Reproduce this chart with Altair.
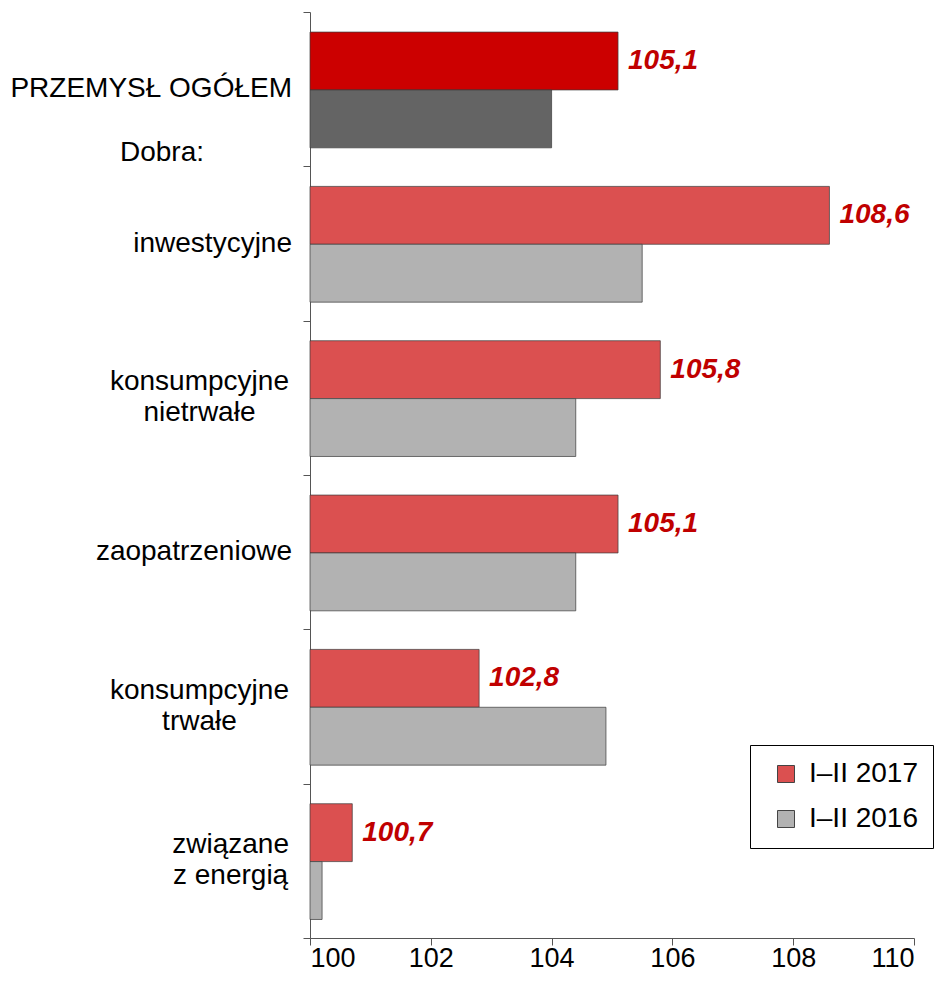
import altair as alt
import pandas as pd

categories = ["PRZEMYSŁ OGÓŁEM", "inwestycyjne", "konsumpcyjne\nnietrwałe",
              "zaopatrzeniowe", "konsumpcyjne\ntrwałe", "związane\nz energią"]
v2017 = [105.1, 108.6, 105.8, 105.1, 102.8, 100.7]
v2016 = [104.0, 105.5, 104.4, 104.4, 104.9, 100.2]
series = ["I–II 2017", "I–II 2016"]
total_keys = ["ogółem 2017", "ogółem 2016"]
sub_header = ["Dobra:"]
x_ticks = [100, 102, 104, 106, 108, 110]

FONT = "Liberation Sans"
FS = 28
LABEL_RIGHT = -18      # px from plot's left edge


def text_width(s, fs=FS):
    """Rough width estimate of a line in Liberation Sans."""
    w = 0.0
    for ch in s:
        if ch in "ijlłtrf ,.:":
            w += 0.25
        elif ch in "mw":
            w += 0.8
        else:
            w += 0.556
    return w * fs


# bar table: group index -> band position within the group
rows = []
for g, cat in enumerate(categories):
    for s, vals in enumerate([v2017, v2016]):
        key = total_keys[s] if g == 0 else series[s]
        top = g + (0.13 if s == 0 else 0.505)
        bot = g + (0.505 if s == 0 else 0.88)
        rows.append({"cat": cat, "series": series[s], "key": key,
                     "value": vals[g], "y0": top, "y1": bot})
bars_df = pd.DataFrame(rows)

lab_df = pd.DataFrame({"cat": categories,
                       "yc": [g + 0.5 for g in range(len(categories))]})
lab_df["multi"] = lab_df["cat"].str.contains("\n")
lab_df["xpix"] = [LABEL_RIGHT - max(text_width(s) for s in c.split("\n")) / 2
                  for c in lab_df["cat"]]
single_df = lab_df[~lab_df["multi"]]
multi_df = lab_df[lab_df["multi"]]

val_df = pd.DataFrame({"value": v2017,
                       "yc": [g + 0.3175 for g in range(len(categories))],
                       "txt": [f"{v:.1f}".replace(".", ",") for v in v2017]})
dobra_df = pd.DataFrame({"txt": sub_header, "yc": [0.914]})

yscale = alt.Scale(domain=[0, 6], reverse=True, nice=False, zero=False)
xscale = alt.Scale(domain=[100, 110], nice=False, zero=False)

xaxis = alt.Axis(values=x_ticks, format="d", title=None, grid=False,
                 labelFontSize=27, labelFont=FONT, labelColor="#000",
                 tickSize=7, tickColor="#555", domainColor="#555",
                 labelPadding=0)
yaxis = alt.Axis(values=[0, 1, 2, 3, 4, 5, 6], labels=False, title=None,
                 grid=False, tickSize=7, tickColor="#555", domainColor="#555")

bars = alt.Chart(bars_df).mark_bar(
    stroke="#3a3a3a", strokeWidth=1, strokeOpacity=0.7
).encode(
    x=alt.X("value:Q", scale=xscale, axis=xaxis),
    x2=alt.datum(100),
    y=alt.Y("y0:Q", scale=yscale, axis=yaxis),
    y2="y1:Q",
    color=alt.Color("key:N",
                    scale=alt.Scale(domain=series + total_keys,
                                    range=["#DB5050", "#B2B2B2", "#CC0000", "#646464"]),
                    legend=alt.Legend(orient="none", legendX=440, legendY=733,
                                      values=series, title=None, padding=15,
                                      strokeColor="#000", fillColor="white",
                                      symbolType="square", symbolSize=289,
                                      symbolOffset=7, labelOffset=9,
                                      labelFontSize=FS, labelFont=FONT,
                                      labelColor="#000", rowPadding=17,
                                      symbolStrokeColor="#444",
                                      symbolStrokeWidth=1)),
)

labels_single = alt.Chart(single_df).mark_text(
    align="right", baseline="middle", font=FONT, fontSize=FS, color="#000"
).encode(
    x=alt.value(LABEL_RIGHT),
    y=alt.Y("yc:Q", scale=yscale, axis=yaxis),
    text="cat:N",
)

labels_multi = alt.Chart(multi_df).mark_text(
    align="center", baseline="middle", font=FONT, fontSize=FS,
    lineBreak="\n", lineHeight=31, dy=-15.5, color="#000"
).encode(
    x=alt.X("xpix:Q", scale=None),
    y=alt.Y("yc:Q", scale=yscale, axis=yaxis),
    text="cat:N",
)

dobra = alt.Chart(dobra_df).mark_text(
    align="center", baseline="middle", font=FONT, fontSize=FS, color="#000"
).encode(
    x=alt.value(-148),
    y=alt.Y("yc:Q", scale=yscale, axis=yaxis),
    text="txt:N",
)

values = alt.Chart(val_df).mark_text(
    align="left", baseline="middle", font=FONT, fontSize=FS,
    fontWeight="bold", fontStyle="italic", color="#C00000", dx=10
).encode(
    x=alt.X("value:Q", scale=xscale, axis=xaxis),
    y=alt.Y("yc:Q", scale=yscale, axis=yaxis),
    text="txt:N",
)

chart = alt.layer(bars, labels_single, labels_multi, dobra, values).properties(
    width=604, height=926,
    padding={"left": 302, "top": 4, "right": 21, "bottom": 35},
    autosize="none",
).configure_view(stroke=None)

chart.save("out.html", embed_options={"renderer": "svg", "actions": False})
